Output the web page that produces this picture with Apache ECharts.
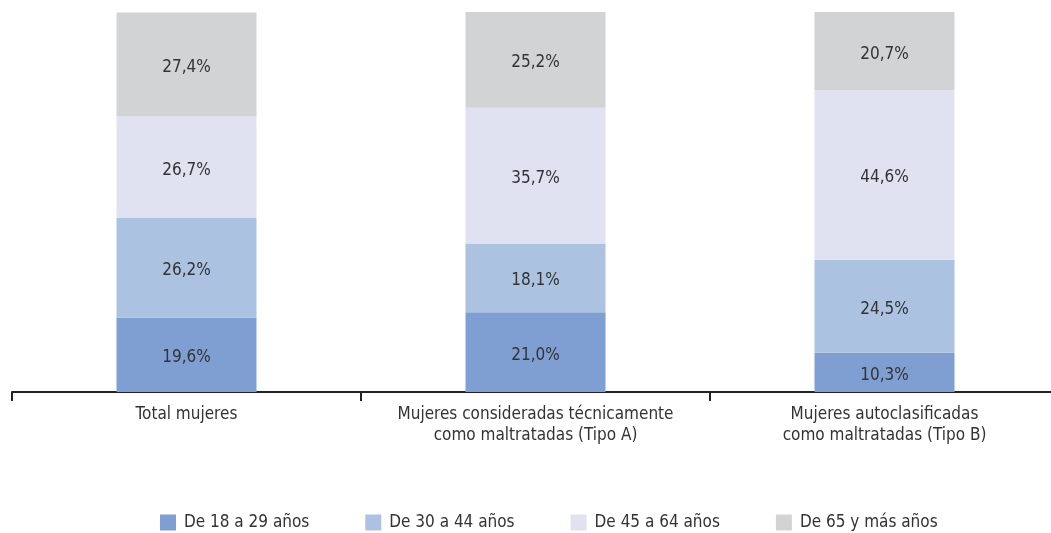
<!DOCTYPE html>
<html>
<head>
<meta charset="utf-8">
<script src="https://cdn.jsdelivr.net/npm/echarts@6/dist/echarts.min.js"></script>
<style>
  html, body { margin: 0; padding: 0; background: #fff; }
  #chart { width: 1051px; height: 533px; }
</style>
</head>
<body>
<div id="chart"></div>
<script>
const categories = [
  'Total mujeres',
  'Mujeres consideradas técnicamente\ncomo maltratadas (Tipo A)',
  'Mujeres autoclasificadas\ncomo maltratadas (Tipo B)'
];
const seriesNames = ['De 18 a 29 años', 'De 30 a 44 años', 'De 45 a 64 años', 'De 65 y más años'];
const age18to29 = [19.6, 21.0, 10.3];
const age30to44 = [26.2, 18.1, 24.5];
const age45to64 = [26.7, 35.7, 44.6];
const age65plus = [27.4, 25.2, 20.7];

const colors = ['#7f9fd3', '#abc3e1', '#e0e1f1', '#d2d3d5'];
const font = '"Liberation Sans Narrow", "DejaVu Sans Condensed", "Roboto", sans-serif';

const chart = echarts.init(document.getElementById('chart'));

const makeSeries = (name, data, i) => ({
  name: name,
  type: 'bar',
  stack: 'total',
  barWidth: 140,
  data: data,
  itemStyle: { color: colors[i] },
  label: {
    show: true,
    position: 'inside',
    offset: [0, 3],
    color: '#333',
    fontFamily: font,
    fontSize: 17,
    formatter: p => p.value.toFixed(1).replace('.', ',') + '%'
  }
});

chart.setOption({
  animation: false,
  grid: { left: 12, width: 1047, top: 12, bottom: 141, outerBoundsMode: 'none', containLabel: false },
  legend: {
    left: 155,
    bottom: -3,
    itemWidth: 16,
    itemHeight: 16,
    itemGap: 56,
    icon: 'rect',
    textStyle: { color: '#333', fontFamily: font, fontSize: 17, padding: [0, 0, 0, 3] }
  },
  xAxis: {
    type: 'category',
    data: categories,
    axisLine: { lineStyle: { color: '#222', width: 2 } },
    axisTick: { show: true, length: 9, lineStyle: { color: '#222', width: 2 } },
    axisLabel: { color: '#333', fontFamily: font, fontSize: 17, lineHeight: 21, margin: 12, interval: 0 }
  },
  yAxis: {
    type: 'value',
    min: 0,
    max: 100,
    show: false
  },
  series: [
    makeSeries(seriesNames[0], age18to29, 0),
    makeSeries(seriesNames[1], age30to44, 1),
    makeSeries(seriesNames[2], age45to64, 2),
    makeSeries(seriesNames[3], age65plus, 3)
  ]
});
</script>
</body>
</html>
